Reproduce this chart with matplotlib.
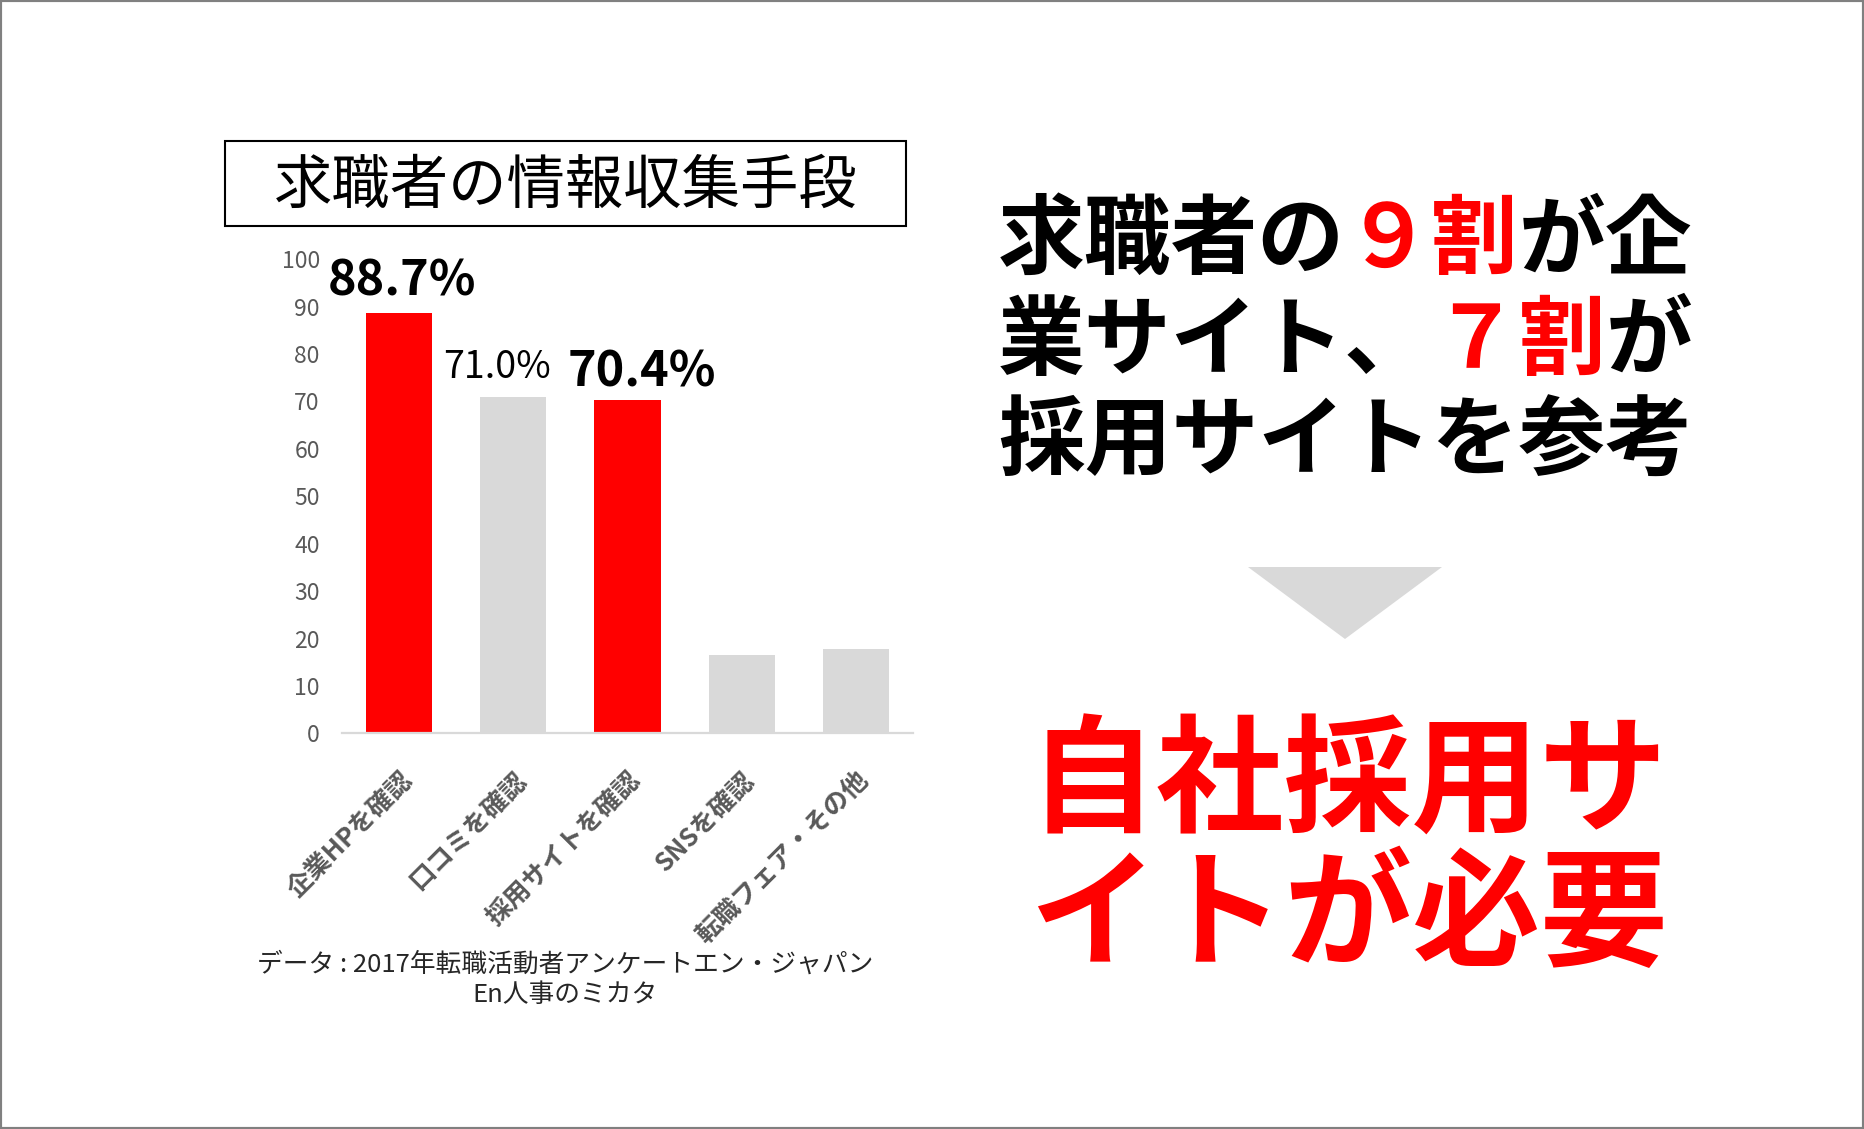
import matplotlib
matplotlib.use("Agg")
import matplotlib.pyplot as plt
from matplotlib.patches import Rectangle, Polygon

plt.rcParams['font.family'] = ['Noto Sans CJK JP', 'DejaVu Sans']

# DATOS DEL GRÁFICO

categorias = ["企業HPを確認", "口コミを確認", "採用サイトを確認", "SNSを確認", "転職フェア・その他"]
valores = [88.7, 71.0, 70.4, 16.5, 17.7]
destacar = [True, False, True, False, False]       # barras en rojo
etiquetas = ["88.7%", "71.0%", "70.4%", "", ""]
etiqueta_negrita = [True, False, True, False, False]
yticks = list(range(0, 101, 10))

titulo = "求職者の情報収集手段"
fuente = ["データ : 2017年転職活動者アンケートエン・ジャパン", "En人事のミカタ"]

# texto de la derecha: (texto, color) por línea
mensaje_arriba = [
    [("求職者の", "black"), ("９割", "red"), ("が企", "black")],
    [("業サイト、", "black"), ("７割", "red"), ("が", "black")],
    [("採用サイトを参考", "black")],
]
mensaje_abajo = ["自社採用サ", "イトが必要"]

ROJO = "#ff0000"
GRIS = "#d9d9d9"
GRIS_TXT = "#595959"

W, H = 1864, 1129
fig = plt.figure(figsize=(W / 100, H / 100), dpi=100)
fig.patch.set_facecolor("white")

# borde de la figura
fig.patches.append(Rectangle((0, 0), 1, 1, transform=fig.transFigure, fill=False,
                             edgecolor="#808080", lw=3))

# GRÁFICO DE BARRAS

ax = fig.add_axes([342 / W, 1 - 733.3 / H, 571 / W, 474 / H])
x = range(len(categorias))
colores = [ROJO if d else GRIS for d in destacar]
barras = ax.bar(x, valores, width=0.58, color=colores, zorder=2)

ax.set_xlim(-0.5, len(categorias) - 0.5)
ax.set_ylim(0, 100)
ax.set_yticks(yticks)
ax.set_yticklabels([str(v) for v in yticks], fontsize=16.5, color=GRIS_TXT)
ax.tick_params(axis="y", length=0, pad=16)
ax.set_xticks(list(x))
ax.set_xticklabels(categorias, rotation=45, ha="right", rotation_mode="anchor",
                   fontsize=18.5, fontweight="bold", color=GRIS_TXT)
ax.tick_params(axis="x", length=0, pad=24)
for s in ["top", "right", "left"]:
    ax.spines[s].set_visible(False)
ax.spines["bottom"].set_color(GRIS)
ax.spines["bottom"].set_linewidth(1.6)

# etiquetas de valor
desplaz = [(2, 5), (-12, 7), (10, 2), (0, 0), (0, 0)]
for b, txt, neg, d in zip(barras, etiquetas, etiqueta_negrita, desplaz):
    if not txt:
        continue
    ax.annotate(txt, (b.get_x() + b.get_width() / 2, b.get_height()),
                xytext=d, textcoords="offset points", ha="center", va="bottom",
                fontsize=35 if neg else 27, fontweight="bold" if neg else "normal",
                color="black")

# título con recuadro
fig.patches.append(Rectangle((225 / W, 1 - 226 / H), 681 / W, 85 / H,
                             transform=fig.transFigure, fill=False,
                             edgecolor="black", lw=1.5))
fig.text(566 / W, 1 - 186 / H, titulo, fontsize=42, ha="center", va="center")

# fuente
fig.text(565 / W, 1 - 965 / H, fuente[0], fontsize=18.5, ha="center", va="center", color="#262626")
fig.text(565 / W, 1 - 995 / H, fuente[1], fontsize=18.5, ha="center", va="center", color="#262626")

# TEXTO DE LA DERECHA

renderer = fig.canvas.get_renderer()


def linea_color(partes, xc, yc, size):
    textos = []
    for txt, col in partes:
        c = ROJO if col == "red" else col
        t = fig.text(0, yc, txt, color=c, fontsize=size, fontweight="bold",
                     ha="left", va="center")
        textos.append(t)
    anchos = [t.get_window_extent(renderer).width / W for t in textos]
    xi = xc - sum(anchos) / 2
    for t, w in zip(textos, anchos):
        t.set_x(xi)
        xi += w


for i, partes in enumerate(mensaje_arriba):
    linea_color(partes, 1345 / W, 1 - (242 + 100.5 * i) / H, 62.5)

for i, txt in enumerate(mensaje_abajo):
    fig.text(1348 / W, 1 - (785 + 134 * i) / H, txt, color=ROJO, fontsize=92,
             fontweight="bold", ha="center", va="center")

# flecha triangular
fig.patches.append(Polygon([(1248 / W, 1 - 567 / H), (1442 / W, 1 - 567 / H),
                            (1345 / W, 1 - 639 / H)], closed=True,
                           transform=fig.transFigure, facecolor=GRIS, edgecolor="none"))

fig.savefig("out.png", dpi=100)
